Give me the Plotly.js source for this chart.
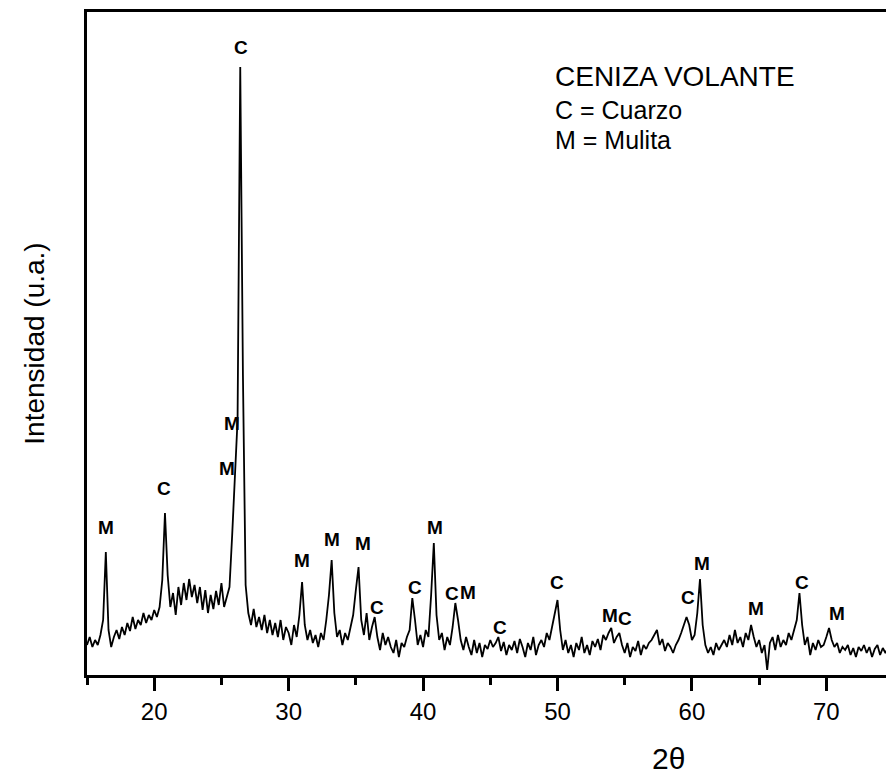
<!DOCTYPE html>
<html>
<head>
<meta charset="utf-8">
<script src="https://cdn.plot.ly/plotly-3.0.1.min.js"></script>
<style>
html,body{margin:0;padding:0;overflow:hidden;background:#fff;}
#chart{width:917px;height:778px;}
</style>
</head>
<body>
<div id="chart"></div>
<script>
// 2-theta grid start and step (degrees)
const thetaStart = 15.0;
const thetaStep = 0.2;
const intensity = [
  30,38,28,35,30,40,55,123,45,28,      // 15.0-16.8
  38,45,36,48,40,52,44,58,46,55,       // 17.0-18.8
  50,62,52,60,55,65,58,68,95,162,      // 19.0-20.8
  100,68,82,60,88,70,92,75,96,78,      // 21.0-22.8
  90,72,88,65,85,62,80,66,84,70,       // 23.0-24.8
  92,68,78,88,140,205,255,608,300,90,  // 25.0-26.8
  62,50,66,48,58,45,60,42,55,40,       // 27.0-28.8
  52,38,55,35,48,42,30,50,38,60,       // 29.0-30.8
  93,50,35,45,32,40,28,42,35,55,       // 31.0-32.8
  80,115,62,38,45,30,42,35,48,60,      // 33.0-34.8
  85,108,55,40,62,35,48,58,38,25,      // 35.0-36.8
  42,30,38,28,22,35,18,32,28,38,       // 37.0-38.8
  45,77,55,30,40,28,45,38,80,132,      // 39.0-40.8
  60,35,42,25,38,30,48,72,55,35,       // 41.0-42.8
  25,38,28,20,35,22,32,18,30,26,       // 43.0-44.8
  35,28,32,38,24,33,20,30,25,34,       // 45.0-46.8
  22,36,28,18,32,25,38,20,30,35,       // 47.0-48.8
  28,42,35,48,60,75,45,25,35,22,       // 49.0-50.8
  30,18,32,25,38,22,30,20,34,28,       // 51.0-52.8
  36,25,40,35,42,47,32,38,42,30,       // 53.0-54.8
  22,32,18,28,24,34,20,30,26,32,       // 55.0-56.8
  35,40,45,30,36,24,32,28,22,30,       // 57.0-58.8
  35,42,50,58,50,35,40,62,96,50,       // 59.0-60.8
  30,22,28,20,32,25,30,35,28,40,       // 61.0-62.8
  30,45,32,38,28,42,35,50,38,28,       // 63.0-64.8
  35,22,30,5,32,38,25,40,28,35,        // 65.0-66.8
  30,42,35,45,55,82,50,30,38,20,       // 67.0-68.8
  32,25,35,28,30,38,47,35,28,32,       // 69.0-70.8
  22,28,25,30,20,27,18,28,24,30,       // 71.0-72.8
  22,28,18,26,30,20,27,22,28,24,26     // 73.0-75.0
];
const twoTheta = intensity.map((_, i) => +(thetaStart + i * thetaStep).toFixed(2));

// Phase labels on the peaks
const peakLabels = ['M','C','M','M','C','M','M','M','C','C','M','C','M','C','C','M','C','C','M','M','C','M'];
const peakLabelX = [16.4,20.75,25.45,25.8,26.45,31.0,33.2,35.5,36.6,39.4,40.9,42.15,43.35,45.7,49.95,53.9,55.0,59.7,60.75,64.8,68.2,70.8];
const peakLabelY = [148,187,207,252,628,115,136,132,68,88,148,82,83,48,93,60,57,78,112,67,93,62];

// Legend text block
const legendLines = ['CENIZA VOLANTE','C = Cuarzo','M = Mulita'];
const xTitle = '2θ';
const yTitle = 'Intensidad (u.a.)';
const xTickVals = [20,30,40,50,60,70];

const font = 'Arial, "Liberation Sans", sans-serif';

const annotations = peakLabels.map((t, i) => ({
  x: peakLabelX[i], y: peakLabelY[i], xref: 'x', yref: 'y',
  text: '<b>' + t + '</b>', showarrow: false,
  font: {family: font, size: 19, color: '#000'},
  xanchor: 'center', yanchor: 'middle'
}));

const legendY = [77, 110, 140];
const legendSize = [28, 25, 25];
legendLines.forEach((t, i) => {
  annotations.push({
    x: 553, y: legendY[i], xref: 'paper', yref: 'paper', text: t, showarrow: false,
    font: {family: font, size: legendSize[i], color: '#000'},
    xanchor: 'left', yanchor: 'middle'
  });
});
// convert pixel positions for legend to paper coords
const L = 87, T = 12, PW = 820.5, PH = 663;
annotations.forEach(a => {
  if (a.xref === 'paper') {
    a.x = (a.x - L) / PW;
    a.y = 1 - (a.y - T) / PH;
  }
});
// x axis title placed under the axis
annotations.push({
  x: (669 - L) / PW, y: -(758 - T - PH) / PH, xref: 'paper', yref: 'paper',
  text: xTitle, showarrow: false,
  font: {family: font, size: 30, color: '#000'},
  xanchor: 'center', yanchor: 'middle'
});

const trace = {
  x: twoTheta, y: intensity, type: 'scatter', mode: 'lines',
  line: {color: '#000', width: 1.8}, hoverinfo: 'skip'
};

const layout = {
  width: 917, height: 778,
  margin: {l: L, r: 917 - L - PW, t: T, b: 778 - T - PH},
  paper_bgcolor: '#fff', plot_bgcolor: '#fff',
  showlegend: false,
  font: {family: font, color: '#000'},
  xaxis: {
    range: [15, 76], showgrid: false, zeroline: false,
    showline: true, linecolor: '#000', linewidth: 3, mirror: true,
    tickmode: 'array', tickvals: xTickVals, ticktext: xTickVals.map(String),
    ticks: 'outside', ticklen: 13, tickwidth: 3, tickcolor: '#000',
    tickfont: {family: font, size: 24, color: '#000'},
    minor: {tickmode: 'linear', tick0: 15, dtick: 5, ticks: 'outside', ticklen: 7, tickwidth: 3, tickcolor: '#000', showgrid: false},
    fixedrange: true
  },
  yaxis: {
    range: [0, 663], showgrid: false, zeroline: false,
    showline: true, linecolor: '#000', linewidth: 3, mirror: true,
    ticks: '', showticklabels: false,
    title: {text: yTitle, font: {family: font, size: 28, color: '#000'}, standoff: 32},
    fixedrange: true
  },
  annotations: annotations
};

Plotly.newPlot('chart', [trace], layout, {staticPlot: true, displayModeBar: false});
</script>
</body>
</html>
